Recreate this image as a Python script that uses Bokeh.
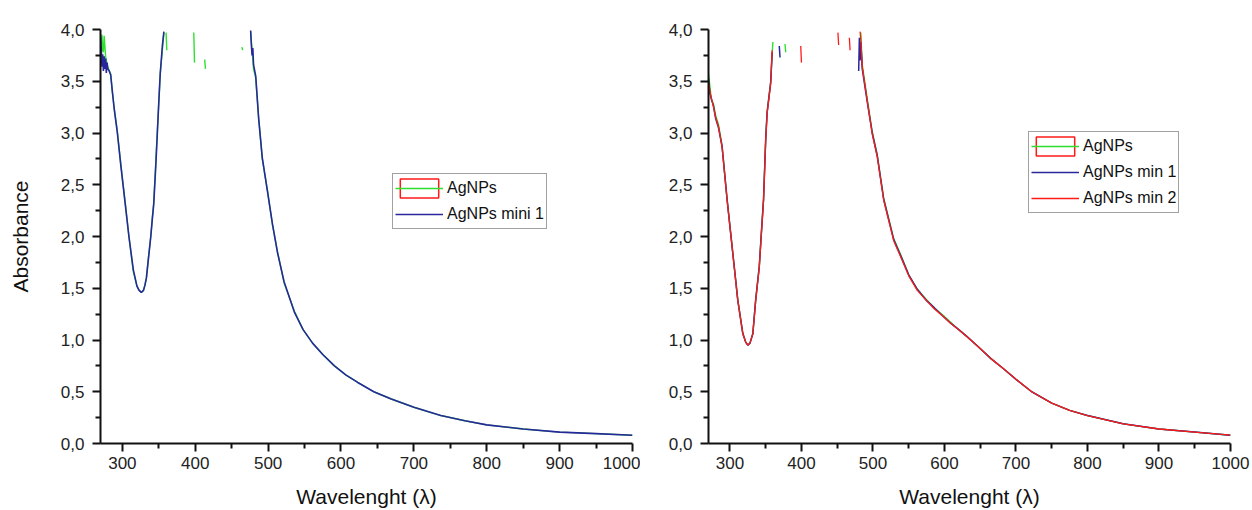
import numpy as np
from bokeh.plotting import figure
from bokeh.layouts import row
from bokeh.models import (FixedTicker, CustomJSTickFormatter, Legend, LegendItem,
                          Range1d, ColumnDataSource)
from bokeh.embed import file_html
from bokeh.resources import INLINE

NaN = float("nan")

# ---------------- ticks ----------------
x_ticks = [300, 400, 500, 600, 700, 800, 900, 1000]
x_minor = [350, 450, 550, 650, 750, 850, 950]
y_ticks = [0.0, 0.5, 1.0, 1.5, 2.0, 2.5, 3.0, 3.5, 4.0]
y_minor = [0.25, 0.75, 1.25, 1.75, 2.25, 2.75, 3.25, 3.75]

# ---------------- left panel data (NaN = off-scale / saturated) ----------------
wl_l_blue = [270, 271, 272, 273, 274, 275, 276, 277, 278, 279, 280, 282, 284, 286, 289, 293, 298,
             304, 309, 315, 320, 323, 326, 329, 331, 333, 336, 339, 341, 343, 346, 348, 350, 352,
             355, 357, 358, 476, 477, 478, 479, 480, 483, 487, 492, 499, 506, 513, 522, 536,
             548, 561, 575, 591, 607, 623, 645, 669, 700, 737, 770, 800, 850, 900, 950, 1000]
abs_l_blue = [3.93, 3.82, 3.64, 3.76, 3.60, 3.74, 3.62, 3.72, 3.58, 3.68, 3.62, 3.6, 3.56, 3.42, 3.22, 3.01, 2.68,
              2.31, 2.0, 1.68, 1.52, 1.48, 1.46, 1.48, 1.53, 1.6, 1.8, 2.0, 2.16, 2.31, 2.7, 3.0, 3.3, 3.58,
              3.85, 3.98, NaN, 3.99, 3.85, 3.75, 3.82, 3.66, 3.55, 3.14, 2.76, 2.44, 2.12, 1.84, 1.56, 1.27,
              1.1, 0.97, 0.86, 0.75, 0.66, 0.59, 0.5, 0.43, 0.35, 0.27, 0.22, 0.18, 0.14, 0.11, 0.095, 0.08]

wl_l_green = [270, 271, 272, 273, 274, 275, 276, 277, 278, 280, 282, 284, 286, 289, 293, 298,
              304, 309, 315, 320, 323, 326, 329, 331, 333, 336, 339, 341, 343, 348, 352, 357, 358,
              360, 361, 362, 398, 399, 400, 413, 414, 415, 464, 465, 466,
              476, 478, 480, 483, 487, 492, 499, 506, 513, 522, 536,
              548, 561, 575, 591, 607, 623, 645, 669, 700, 737, 770, 800, 850, 900, 950, 1000]
abs_l_green = [3.90, 3.86, 3.95, 3.80, 3.78, 3.94, 3.84, 3.74, 3.70, 3.64, 3.6, 3.57, 3.41, 3.23, 3.02, 2.69,
               2.32, 2.0, 1.66, 1.52, 1.48, 1.46, 1.48, 1.53, 1.6, 1.81, 2.0, 2.17, 2.32, 3.02, 3.57, 3.97, NaN,
               3.97, 3.8, NaN, 3.97, 3.68, NaN, 3.71, 3.62, NaN, 3.83, 3.8, NaN,
               3.98, 3.8, 3.62, 3.53, 3.15, 2.75, 2.45, 2.11, 1.85, 1.55, 1.28,
               1.1, 0.97, 0.86, 0.75, 0.66, 0.59, 0.5, 0.43, 0.35, 0.27, 0.22, 0.18, 0.14, 0.11, 0.095, 0.08]

# ---------------- right panel data ----------------
wl_r_green = [270, 272, 274, 277, 280, 284, 289, 296, 301, 306, 311, 318, 322, 325, 328, 332, 336, 341, 344, 347,
              350, 352, 357, 360, 361, 377, 378, 379, 483, 485, 492, 499, 506, 515, 529, 539, 550, 562,
              575, 586, 598, 609, 620, 632, 648, 665, 683, 700, 722, 750, 775, 800, 850, 900, 950, 1000]
abs_r_green = [3.57, 3.45, 3.32, 3.28, 3.17, 3.08, 2.88, 2.36, 2.04, 1.71, 1.39, 1.07, 0.98, 0.95, 0.97, 1.06, 1.39, 1.71, 2.05, 2.37,
               2.95, 3.21, 3.5, 3.88, NaN, 3.86, 3.78, NaN, 3.97, 3.66, 3.33, 3.01, 2.79, 2.37, 1.98, 1.82, 1.63, 1.49,
               1.39, 1.31, 1.24, 1.17, 1.10, 1.03, 0.93, 0.82, 0.72, 0.62, 0.50, 0.39, 0.32, 0.27, 0.19, 0.14, 0.11, 0.08]

wl_r_blue = [270, 272, 274, 277, 280, 284, 289, 296, 301, 306, 311, 318, 322, 325, 328, 332, 336, 341, 344, 347,
             350, 352, 357, 359, 360, 369, 370, 371, 480, 481, 482, 483, 485, 492, 499, 506, 515, 529,
             539, 550, 562, 575, 586, 598, 609, 620, 632, 648, 665, 683, 700, 722, 750, 775, 800, 850, 900, 950, 1000]
abs_r_blue = [3.52, 3.38, 3.33, 3.26, 3.14, 3.05, 2.87, 2.36, 2.03, 1.71, 1.38, 1.06, 0.98, 0.95, 0.97, 1.06, 1.39, 1.71, 2.04, 2.36,
              2.94, 3.2, 3.49, 3.78, NaN, 3.84, 3.73, NaN, 3.6, 3.92, 3.7, 3.88, 3.62, 3.3, 3.0, 2.78, 2.36, 1.97,
              1.81, 1.63, 1.49, 1.38, 1.31, 1.23, 1.16, 1.10, 1.03, 0.93, 0.82, 0.72, 0.62, 0.50, 0.39, 0.32, 0.27, 0.19, 0.14, 0.11, 0.08]

wl_r_red = [270, 272, 274, 277, 280, 284, 289, 296, 301, 306, 311, 318, 322, 325, 328, 332, 336, 341, 344, 347,
            350, 352, 357, 359, 360, 399, 400, 401, 451, 452, 453, 467, 468, 469, 482, 483, 485, 492, 499, 506,
            515, 529, 539, 550, 562, 575, 586, 598, 609, 620, 632, 648, 665, 683, 700, 722, 750, 775, 800, 850, 900, 950, 1000]
abs_r_red = [3.5, 3.4, 3.34, 3.25, 3.15, 3.06, 2.86, 2.35, 2.03, 1.70, 1.38, 1.06, 0.98, 0.95, 0.97, 1.06, 1.38, 1.70, 2.03, 2.35,
             2.93, 3.19, 3.48, 3.80, NaN, 3.84, 3.68, NaN, 3.97, 3.85, NaN, 3.92, 3.8, NaN, 3.98, 3.9, 3.64, 3.31, 2.99, 2.77,
             2.35, 1.96, 1.80, 1.62, 1.48, 1.38, 1.30, 1.23, 1.16, 1.10, 1.03, 0.93, 0.82, 0.72, 0.62, 0.50, 0.39, 0.32, 0.27, 0.19, 0.14, 0.11, 0.08]

GREEN = "#2ee02e"
BLUE = "#28289c"
RED = "#ff1a1a"
FONT = "Liberation Sans"


def src(x, y):
    return ColumnDataSource(dict(x=np.array(x, dtype=float), y=np.array(y, dtype=float)))


def legend_box_src():
    # a single undefined (NaN) box: draws nothing in the plot, only gives the legend its outlined swatch
    return ColumnDataSource(dict(l=np.array([NaN]), r=np.array([NaN]), t=np.array([NaN]), b=np.array([NaN])))


def style(p, ylabel):
    p.outline_line_color = None
    p.xgrid.visible = False
    p.ygrid.visible = False
    p.background_fill_color = "white"
    p.border_fill_color = "white"
    p.xaxis.ticker = FixedTicker(ticks=x_ticks, minor_ticks=x_minor)
    p.yaxis.ticker = FixedTicker(ticks=y_ticks, minor_ticks=y_minor)
    p.yaxis.formatter = CustomJSTickFormatter(code="return tick.toFixed(1).replace('.', ',');")
    for ax in p.axis:
        ax.axis_line_width = 2
        ax.axis_line_color = "#111111"
        ax.major_tick_line_width = 2
        ax.minor_tick_line_width = 2
        ax.major_tick_line_color = "#111111"
        ax.minor_tick_line_color = "#111111"
        ax.major_tick_in = 0
        ax.major_tick_out = 8
        ax.minor_tick_in = 0
        ax.minor_tick_out = 5
        ax.major_label_text_font = FONT
        ax.major_label_text_font_size = "17px"
        ax.major_label_text_color = "#222222"
        ax.axis_label_text_font = FONT
        ax.axis_label_text_font_size = "21px"
        ax.axis_label_text_font_style = "normal"
        ax.axis_label_text_color = "#111111"
    p.xaxis.axis_label = "Wavelenght (λ)"
    p.xaxis.major_label_standoff = 5
    p.xaxis.axis_label_standoff = 13
    p.yaxis.major_label_standoff = 8
    if ylabel:
        p.yaxis.axis_label = ylabel
        p.yaxis.axis_label_standoff = 26


def make_legend(items, loc):
    lg = Legend(items=items, location=loc, margin=0, padding=2, spacing=2,
                glyph_width=48, glyph_height=24, label_standoff=4,
                label_text_font=FONT, label_text_font_size="16px", label_text_color="#111111",
                border_line_color="#444444", border_line_width=1.5,
                background_fill_color="white", background_fill_alpha=1.0)
    return lg


# ---------------- left figure ----------------
p1 = figure(width=640, height=510, output_backend="svg", toolbar_location=None,
            x_range=Range1d(270, 1000), y_range=Range1d(0, 4),
            min_border_left=100, min_border_right=8, min_border_top=22, min_border_bottom=67)
style(p1, "Absorbance")
q1 = p1.quad(left="l", right="r", top="t", bottom="b", source=legend_box_src(),
             fill_alpha=0, line_color=RED, line_width=1.5)
g1 = p1.line("x", "y", source=src(wl_l_green, abs_l_green), line_color=GREEN, line_width=1.4)
b1 = p1.line("x", "y", source=src(wl_l_blue, abs_l_blue), line_color=BLUE, line_width=1.6)
p1.add_layout(make_legend([LegendItem(label="AgNPs", renderers=[q1, g1]),
                           LegendItem(label="AgNPs mini 1", renderers=[b1])], (292, 214)), "center")

# ---------------- right figure ----------------
p2 = figure(width=612, height=510, output_backend="svg", toolbar_location=None,
            x_range=Range1d(270, 1000), y_range=Range1d(0, 4),
            min_border_left=68, min_border_right=22, min_border_top=29, min_border_bottom=67)
style(p2, None)
q2 = p2.quad(left="l", right="r", top="t", bottom="b", source=legend_box_src(),
             fill_alpha=0, line_color=RED, line_width=1.5)
g2 = p2.line("x", "y", source=src(wl_r_green, abs_r_green), line_color=GREEN, line_width=1.4)
b2 = p2.line("x", "y", source=src(wl_r_blue, abs_r_blue), line_color=BLUE, line_width=1.5)
r2 = p2.line("x", "y", source=src(wl_r_red, abs_r_red), line_color=RED, line_width=1.3)
p2.add_layout(make_legend([LegendItem(label="AgNPs", renderers=[q2, g2]),
                           LegendItem(label="AgNPs min 1", renderers=[b2]),
                           LegendItem(label="AgNPs min 2", renderers=[r2])], (320, 230)), "center")

layout = row(p1, p2)
open("out.html", "w").write(file_html(layout, INLINE))
